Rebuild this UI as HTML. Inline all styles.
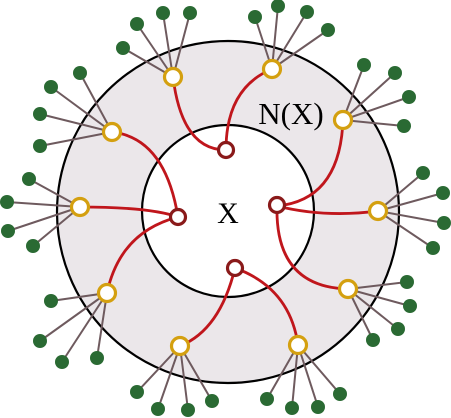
<!DOCTYPE html>
<html><head><meta charset="utf-8"><style>
html,body{margin:0;padding:0;background:#fff}
svg{display:block}
</style></head><body>
<svg width="451" height="418" viewBox="0 0 451 418">
<circle cx="228" cy="212" r="171" fill="#ebe7ea" stroke="#000" stroke-width="2.2"/>
<circle cx="228" cy="211" r="86" fill="#fff" stroke="#000" stroke-width="2.2"/>
<g id="leaves" stroke="#6e5a5e" stroke-width="2"></g>
<g fill="none" stroke="#c0161c" stroke-width="2.8">
<path d="M173,77 Q182,150 226,150"/>
<path d="M226,150 Q226,88 272,69"/>
<path d="M112,132 Q165,138 178,217"/>
<path d="M80,207 Q150,207 178,217"/>
<path d="M178,217 Q120,232 107,293"/>
<path d="M277,206 Q340,200 343,120"/>
<path d="M277,206 Q325,218 378,211"/>
<path d="M277,206 Q275,287 348,289"/>
<path d="M235,268 Q220,330 180,346"/>
<path d="M235,268 Q290,288 298,345"/>
</g>
<g id="nodes"></g>
<text x="291" y="124" font-family="Liberation Serif, serif" font-size="31" text-anchor="middle">N(X)</text>
<text x="228" y="223" font-family="Liberation Serif, serif" font-size="30" text-anchor="middle">X</text>
</svg>
<script>
const yellowNodes=[[173,77],[272,69],[343,120],[112,132],[80,207],[378,211],[348,289],[298,345],[180,346],[107,293]];
const leafSets=[
[[123,48],[137,24],[163,13],[190,13]],
[[255,17],[278,6],[307,12],[328,30]],
[[364,65],[395,73],[409,97],[404,126]],
[[80,73],[51,87],[40,114],[40,146]],
[[29,179],[7,202],[8,231],[33,246]],
[[423,173],[443,193],[444,223],[433,248]],
[[407,282],[410,306],[398,329],[373,340]],
[[267,399],[292,408],[318,407],[340,394]],
[[137,392],[158,409],[188,410],[212,401]],
[[51,301],[40,341],[62,362],[97,358]]];
const innerNodes=[[226,150],[178,217],[277,205],[235,268]];
const NS="http://www.w3.org/2000/svg";
const lg=document.getElementById('leaves'), ng=document.getElementById('nodes');
yellowNodes.forEach((y,i)=>{
  leafSets[i].forEach(l=>{
    const ln=document.createElementNS(NS,'line');
    ln.setAttribute('x1',y[0]);ln.setAttribute('y1',y[1]);ln.setAttribute('x2',l[0]);ln.setAttribute('y2',l[1]);
    
    
    lg.appendChild(ln);
    const c=document.createElementNS(NS,'circle');
    c.setAttribute('cx',l[0]);c.setAttribute('cy',l[1]);c.setAttribute('r',7);c.setAttribute('fill','#2a6a33');
    
    
    ng.appendChild(c);
  });
  const c=document.createElementNS(NS,'circle');
  c.setAttribute('cx',y[0]);c.setAttribute('cy',y[1]);c.setAttribute('r',8.5);c.setAttribute('fill','#fff');
  c.setAttribute('stroke','#d4a010');c.setAttribute('stroke-width','3.2');
  
  
  ng.appendChild(c);
});
innerNodes.forEach(p=>{
  const c=document.createElementNS(NS,'circle');
  c.setAttribute('cx',p[0]);c.setAttribute('cy',p[1]);c.setAttribute('r',7.5);c.setAttribute('fill','#fff');
  c.setAttribute('stroke','#8a1a1a');c.setAttribute('stroke-width','3.2');
  
  
  ng.appendChild(c);
});
</script>
</body></html>
